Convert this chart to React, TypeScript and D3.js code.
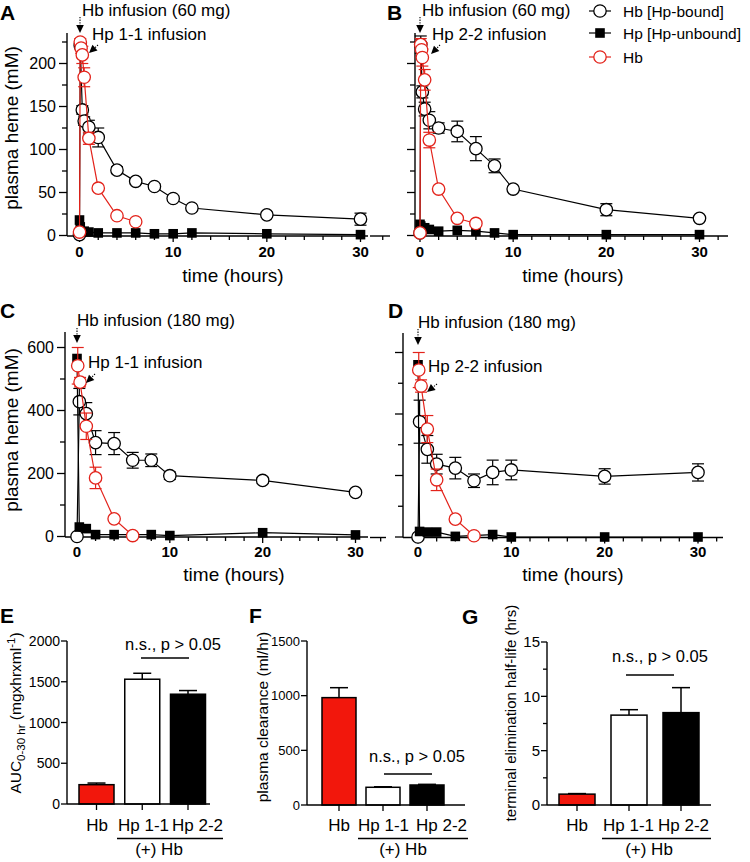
import React from "react";
import * as d3 from "d3";

const RED = "#e3231b";
const BAR_RED = "#f2170c";
const FONT = "'Liberation Sans', Arial, Helvetica, sans-serif";

// ---------- Panel A: Hb 60 mg + Hp 1-1 ----------
const aBoundT = [0, 0.08, 0.3, 0.5, 1, 2, 4, 6, 8, 10, 12, 20, 30];
const aBoundV = [1, 221, 146, 133, 126, 114, 76, 63, 57, 43, 32, 24, 19];
const aBoundE = [0, 4, 5, 5, 8, 11, 4, 3, 3, 3, 2, 3, 7];
const aUnboundT = [0, 0.08, 0.5, 1, 2, 4, 6, 8, 10, 12, 20, 30];
const aUnboundV = [18, 10, 5, 4, 3, 3, 3, 2, 2, 3, 2, 1];
const aHbT = [0, 0.08, 0.17, 0.3, 0.5, 1, 2, 4, 6];
const aHbV = [4, 225, 218, 210, 184, 113, 55, 23, 16];
const aHbE = [0, 4, 6, 10, 11, 7, 0, 0, 0];

// ---------- Panel B: Hb 60 mg + Hp 2-2 ----------
const bBoundT = [0, 0.08, 0.25, 0.5, 1, 2, 4, 6, 8, 10, 20, 30];
const bBoundV = [3, 222, 167, 147, 134, 125, 121, 101, 81, 54, 30, 20];
const bBoundE = [0, 10, 7, 8, 10, 6, 12, 14, 8, 0, 7, 0];
const bUnboundT = [0, 0.08, 0.5, 1, 2, 4, 6, 8, 10, 20, 30];
const bUnboundV = [13, 11, 9, 7, 5, 6, 5, 3, 1, 1, 1];
const bHbT = [0, 0.08, 0.17, 0.25, 0.5, 1, 2, 4, 6];
const bHbV = [3, 222, 216, 207, 181, 111, 54, 20, 14];
const bHbE = [0, 7, 8, 10, 12, 9, 0, 0, 0];

// ---------- Panel C: Hb 180 mg + Hp 1-1 ----------
const cBoundT = [0, 0.25, 1, 2, 4, 6, 8, 10, 20, 30];
const cBoundV = [0, 428, 390, 298, 295, 242, 242, 193, 178, 140];
const cBoundE = [0, 42, 35, 38, 35, 25, 20, 12, 10, 0];
const cUnboundT = [0, 0.25, 1, 2, 4, 8, 10, 20, 30];
const cUnboundV = [565, 30, 25, 6, 6, 6, 3, 12, 5];
const cHbT = [0.08, 0.33, 1, 2, 4, 6];
const cHbV = [542, 490, 350, 186, 56, 3];
const cHbE = [58, 15, 42, 34, 0, 0];

// ---------- Panel D: Hb 180 mg + Hp 2-2 ----------
const dBoundT = [0, 0.17, 1, 2, 4, 6, 8, 10, 20, 30];
const dBoundV = [0, 375, 285, 237, 224, 183, 210, 218, 197, 210];
const dBoundE = [0, 70, 45, 32, 35, 22, 40, 32, 25, 28];
const dUnboundT = [0, 0.17, 1, 2, 4, 8, 10, 20, 30];
const dUnboundV = [560, 18, 16, 16, 2, 8, 0, 0, 0];
const dHbT = [0.08, 0.33, 1, 2, 4, 6];
const dHbV = [543, 491, 351, 186, 58, 4];
const dHbE = [57, 20, 44, 35, 0, 0];

// ---------- Bar panels ----------
const barCats = ["Hb", "Hp 1-1", "Hp 2-2"];
const eAUC = [237, 1531, 1347];
const eAUCErr = [20, 73, 45];
const fClear = [982, 162, 183];
const fClearErr = [91, 5, 6];
const gHalf = [1.0, 8.27, 8.5];
const gHalfErr = [0.05, 0.5, 2.3];

const legendLabels = ["Hb [Hp-bound]", "Hp [Hp-unbound]", "Hb"];

type Scale = d3.ScaleLinear<number, number>;

function arrow(x1: number, y1: number, x2: number, y2: number, key: string) {
  const dx = x2 - x1, dy = y2 - y1;
  const L = Math.hypot(dx, dy);
  const ux = dx / L, uy = dy / L;
  const hl = 8, hw = 3.8;
  const bx = x2 - ux * hl, by = y2 - uy * hl;
  const pts = [
    [x2, y2],
    [bx - uy * hw, by + ux * hw],
    [bx + uy * hw, by - ux * hw],
  ];
  return (
    <g key={key}>
      <line x1={x1} y1={y1} x2={bx} y2={by} stroke="#000" strokeWidth={1.1} strokeDasharray="1.3,1.3" />
      <polygon points={pts.map((p) => p.join(",")).join(" ")} fill="#000" />
    </g>
  );
}

function Series(props: {
  t: number[]; v: number[]; e?: number[]; x: Scale; y: Scale; color: string; shape: "circle" | "square";
}) {
  const { t, v, e, x, y, color, shape } = props;
  const pts = t.map((ti, i) => ({ t: ti, v: v[i], e: e ? e[i] : 0 }));
  const line = d3.line<{ t: number; v: number }>().x((d) => x(d.t)).y((d) => y(d.v));
  return (
    <g>
      <path d={line(pts) || ""} fill="none" stroke={color} strokeWidth={1.2} />
      {pts.filter((p) => p.e > 0).map((p, i) => {
        const cx = x(p.t);
        const y1 = y(p.v - p.e), y2 = y(p.v + p.e);
        return (
          <g key={"e" + i} stroke={color} strokeWidth={1.2}>
            <line x1={cx} x2={cx} y1={y1} y2={y2} />
            <line x1={cx - 6} x2={cx + 6} y1={y1} y2={y1} />
            <line x1={cx - 6} x2={cx + 6} y1={y2} y2={y2} />
          </g>
        );
      })}
      {pts.map((p, i) =>
        shape === "circle" ? (
          <circle key={"m" + i} cx={x(p.t)} cy={y(p.v)} r={6.2} fill="#fff" stroke={color} strokeWidth={1.3} />
        ) : (
          <rect key={"m" + i} x={x(p.t) - 4.8} y={y(p.v) - 4.8} width={9.6} height={9.6} fill={color} />
        )
      )}
    </g>
  );
}

type LineCfg = {
  xr: [number, number];
  yd: [number, number];
  yr: [number, number];
  yAxisX: number;
  xAxisEnd: number;
  yAxisTop: number;
  yMajor: number;
  yMinor: number;
  yTickMax: number;
  xTickMax: number;
  showYLabels: boolean;
  stub?: [number, number];
  xLabelBaseline: number;
  titleBaseline: number;
  titleX: number;
};

function LinePanel(props: {
  cfg: LineCfg;
  bound: [number[], number[], number[]];
  unbound: [number[], number[]];
  hb: [number[], number[], number[]];
}) {
  const { cfg, bound, unbound, hb } = props;
  const x = d3.scaleLinear().domain([0, 30]).range(cfg.xr);
  const y = d3.scaleLinear().domain(cfg.yd).range(cfg.yr);
  const ay = y(0) + 0.5;
  const xt = d3.range(0, cfg.xTickMax + 0.001, 2);
  const yt = d3.range(0, cfg.yTickMax + 0.001, cfg.yMinor);
  return (
    <g>
      <line x1={cfg.yAxisX} x2={cfg.yAxisX} y1={ay} y2={cfg.yAxisTop} stroke="#000" strokeWidth={1.4} />
      {yt.map((v) => {
        const major = Math.abs(v % cfg.yMajor) < 1e-6;
        const len = major ? 8 : 5;
        return (
          <g key={"yt" + v}>
            <line x1={cfg.yAxisX - len} x2={cfg.yAxisX} y1={y(v)} y2={y(v)} stroke="#000" strokeWidth={1.3} />
            {cfg.showYLabels && major ? (
              <text x={cfg.yAxisX - 11} y={y(v)} dy="0.36em" textAnchor="end" fontSize={16}>
                {v}
              </text>
            ) : null}
          </g>
        );
      })}
      <line x1={cfg.yAxisX} x2={cfg.xAxisEnd} y1={ay} y2={ay} stroke="#000" strokeWidth={1.4} />
      {cfg.stub ? (
        <g>
          <line x1={cfg.stub[0]} x2={cfg.stub[1]} y1={ay} y2={ay} stroke="#000" strokeWidth={1.4} />
          <line x1={x(-4)} x2={x(-4)} y1={ay} y2={ay + 4} stroke="#000" strokeWidth={1.3} />
        </g>
      ) : null}
      {xt.map((t) => {
        const major = t % 10 === 0;
        return (
          <g key={"xt" + t}>
            <line x1={x(t)} x2={x(t)} y1={ay} y2={ay + (major ? 6 : 4)} stroke="#000" strokeWidth={1.3} />
            {major ? (
              <text x={x(t)} y={cfg.xLabelBaseline} textAnchor="middle" fontSize={15} fontWeight="bold">
                {t}
              </text>
            ) : null}
          </g>
        );
      })}
      <text x={cfg.titleX} y={cfg.titleBaseline} textAnchor="middle" fontSize={19}>
        time (hours)
      </text>
      <Series t={bound[0]} v={bound[1]} e={bound[2]} x={x} y={y} color="#000" shape="circle" />
      <Series t={unbound[0]} v={unbound[1]} x={x} y={y} color="#000" shape="square" />
      <Series t={hb[0]} v={hb[1]} e={hb[2]} x={x} y={y} color={RED} shape="circle" />
    </g>
  );
}

type BarCfg = {
  yAxisX: number;
  yd: [number, number];
  yr: [number, number];
  yStep: number;
  yMinor?: number;
  xAxisEnd: number;
  centers: [number, number];
  bw: number;
  labelX: number[];
  sig: { x1: number; x2: number; y: number; tx: number; ty: number };
  under: { x1: number; x2: number; tx: number };
  tickFont: number;
};

function BarPanel(props: { cfg: BarCfg; values: number[]; errs: number[] }) {
  const { cfg, values, errs } = props;
  const y = d3.scaleLinear().domain(cfg.yd).range(cfg.yr);
  const x = d3.scalePoint<string>().domain(barCats).range(cfg.centers);
  const ay = y(0);
  const fills = [BAR_RED, "#fff", "#000"];
  const major = d3.range(cfg.yd[0], cfg.yd[1] + 1e-6, cfg.yStep);
  const minor = cfg.yMinor ? d3.range(cfg.yd[0], cfg.yd[1] + 1e-6, cfg.yMinor).filter((v) => Math.abs(v % cfg.yStep) > 1e-6) : [];
  return (
    <g>
      <line x1={cfg.yAxisX} x2={cfg.yAxisX} y1={ay} y2={y(cfg.yd[1])} stroke="#000" strokeWidth={1.4} />
      {major.map((v) => (
        <g key={"m" + v}>
          <line x1={cfg.yAxisX - 6} x2={cfg.yAxisX} y1={y(v)} y2={y(v)} stroke="#000" strokeWidth={1.3} />
          <text x={cfg.yAxisX - 7} y={y(v)} dy="0.36em" textAnchor="end" fontSize={cfg.tickFont}>
            {v}
          </text>
        </g>
      ))}
      {minor.map((v) => (
        <line key={"n" + v} x1={cfg.yAxisX - 4} x2={cfg.yAxisX} y1={y(v)} y2={y(v)} stroke="#000" strokeWidth={1.3} />
      ))}
      {barCats.map((c, i) => {
        const cx = x(c) as number;
        const top = y(values[i]);
        const et = y(values[i] + errs[i]);
        return (
          <g key={c}>
            <line x1={cx} x2={cx} y1={top} y2={et} stroke="#000" strokeWidth={1.5} />
            <line x1={cx - 9} x2={cx + 9} y1={et} y2={et} stroke="#000" strokeWidth={1.5} />
            <rect x={cx - cfg.bw / 2} y={top} width={cfg.bw} height={ay - top} fill={fills[i]} stroke="#000" strokeWidth={1.5} />
            <line x1={cx} x2={cx} y1={ay} y2={ay + 6} stroke="#000" strokeWidth={1.3} />
            <text x={cfg.labelX[i]} y={831} textAnchor="middle" fontSize={17}>
              {c}
            </text>
          </g>
        );
      })}
      <line x1={cfg.yAxisX} x2={cfg.xAxisEnd} y1={ay} y2={ay} stroke="#000" strokeWidth={1.4} />
      <line x1={cfg.sig.x1} x2={cfg.sig.x2} y1={cfg.sig.y} y2={cfg.sig.y} stroke="#000" strokeWidth={1.3} />
      <text x={cfg.sig.tx} y={cfg.sig.ty} textAnchor="middle" fontSize={16.5}>
        n.s., p &gt; 0.05
      </text>
      <line x1={cfg.under.x1} x2={cfg.under.x2} y1={838.5} y2={838.5} stroke="#000" strokeWidth={1.3} />
      <text x={cfg.under.tx} y={855} textAnchor="middle" fontSize={17}>
        (+) Hb
      </text>
    </g>
  );
}

export default function App() {
  const A: LineCfg = {
    xr: [79.5, 360.5], yd: [0, 200], yr: [235.5, 63.5], yAxisX: 67, xAxisEnd: 368, yAxisTop: 33,
    yMajor: 50, yMinor: 25, yTickMax: 225, xTickMax: 30, showYLabels: true,
    xLabelBaseline: 257, titleBaseline: 282, titleX: 233,
  };
  const B: LineCfg = {
    xr: [420, 699.5], yd: [0, 200], yr: [235.5, 63.5], yAxisX: 415, xAxisEnd: 728, yAxisTop: 33,
    yMajor: 50, yMinor: 25, yTickMax: 225, xTickMax: 32, showYLabels: false, stub: [370, 390],
    xLabelBaseline: 257, titleBaseline: 282, titleX: 573,
  };
  const C: LineCfg = {
    xr: [77, 355.5], yd: [0, 600], yr: [536.5, 347.5], yAxisX: 65, xAxisEnd: 368, yAxisTop: 332,
    yMajor: 200, yMinor: 100, yTickMax: 600, xTickMax: 30, showYLabels: true,
    xLabelBaseline: 557, titleBaseline: 581, titleX: 234,
  };
  const D: LineCfg = {
    xr: [418, 698], yd: [0, 600], yr: [537, 352.5], yAxisX: 403, xAxisEnd: 723, yAxisTop: 333,
    yMajor: 200, yMinor: 100, yTickMax: 600, xTickMax: 32, showYLabels: false, stub: [370, 386],
    xLabelBaseline: 557, titleBaseline: 581, titleX: 573,
  };
  const E: BarCfg = {
    yAxisX: 67, yd: [0, 2000], yr: [804, 641], yStep: 500, xAxisEnd: 210, centers: [96.5, 188], bw: 35,
    labelX: [97, 143.5, 197.5], sig: { x1: 141, x2: 189, y: 658, tx: 173, ty: 650 },
    under: { x1: 117, x2: 223, tx: 159 }, tickFont: 14,
  };
  const F: BarCfg = {
    yAxisX: 307, yd: [0, 1500], yr: [805, 641], yStep: 500, xAxisEnd: 465, centers: [339, 427], bw: 34,
    labelX: [339, 383.5, 441.5], sig: { x1: 384, x2: 432, y: 774, tx: 417, ty: 762 },
    under: { x1: 358, x2: 468, tx: 403 }, tickFont: 13,
  };
  const G: BarCfg = {
    yAxisX: 547, yd: [0, 15], yr: [805, 642], yStep: 5, yMinor: 2.5, xAxisEnd: 711, centers: [577, 681], bw: 36,
    labelX: [577, 628.5, 683.5], sig: { x1: 626, x2: 674, y: 675, tx: 660, ty: 662 },
    under: { x1: 602, x2: 711, tx: 649 }, tickFont: 15,
  };

  const letter = (s: string, x: number, y: number) => (
    <text key={s} x={x} y={y} fontSize={21} fontWeight="bold">
      {s}
    </text>
  );

  return (
    <svg width={750} height={862} style={{ position: "absolute", left: 0, top: 0, fontFamily: FONT }}>
      <rect width={750} height={862} fill="#fff" />
      {letter("A", 0, 19.5)}
      {letter("B", 387, 19.5)}
      {letter("C", 0, 318)}
      {letter("D", 388, 318)}
      {letter("E", 0, 623)}
      {letter("F", 249, 623)}
      {letter("G", 462, 624)}

      {/* Panel A */}
      <LinePanel cfg={A} bound={[aBoundT, aBoundV, aBoundE]} unbound={[aUnboundT, aUnboundV]} hb={[aHbT, aHbV, aHbE]} />
      <text transform="translate(18,128) rotate(-90)" textAnchor="middle" fontSize={19}>
        plasma heme (mM)
      </text>
      <text x={82} y={15.5} fontSize={17}>Hb infusion (60 mg)</text>
      <text x={92} y={39.5} fontSize={17}>Hp 1-1 infusion</text>
      {arrow(80, 17, 80, 33, "a1")}
      {arrow(98, 45, 89, 53, "a2")}

      {/* Panel B */}
      <LinePanel cfg={B} bound={[bBoundT, bBoundV, bBoundE]} unbound={[bUnboundT, bUnboundV]} hb={[bHbT, bHbV, bHbE]} />
      <text x={422} y={15.5} fontSize={17}>Hb infusion (60 mg)</text>
      <text x={432} y={39.5} fontSize={17}>Hp 2-2 infusion</text>
      {arrow(420, 17, 420, 33, "b1")}
      {arrow(440, 45, 431, 54, "b2")}

      {/* Legend */}
      {legendLabels.map((lab, i) => {
        const ly = [11, 33, 57][i];
        const col = i === 2 ? RED : "#000";
        return (
          <g key={lab}>
            <line x1={589} x2={611} y1={ly} y2={ly} stroke={col} strokeWidth={1.2} />
            {i === 1 ? (
              <rect x={595.2} y={ly - 4.8} width={9.6} height={9.6} fill="#000" />
            ) : (
              <circle cx={600} cy={ly} r={6.2} fill="#fff" stroke={col} strokeWidth={1.3} />
            )}
            <text x={623} y={ly} dy="0.36em" fontSize={15.5}>
              {lab}
            </text>
          </g>
        );
      })}

      {/* Panel C */}
      <LinePanel cfg={C} bound={[cBoundT, cBoundV, cBoundE]} unbound={[cUnboundT, cUnboundV]} hb={[cHbT, cHbV, cHbE]} />
      <text transform="translate(18,430) rotate(-90)" textAnchor="middle" fontSize={19}>
        plasma heme (mM)
      </text>
      <text x={77} y={326} fontSize={17}>Hb infusion (180 mg)</text>
      <text x={88} y={368} fontSize={17}>Hp 1-1 infusion</text>
      {arrow(77, 328, 77, 343, "c1")}
      {arrow(95, 374, 86, 383, "c2")}

      {/* Panel D */}
      <LinePanel cfg={D} bound={[dBoundT, dBoundV, dBoundE]} unbound={[dUnboundT, dUnboundV]} hb={[dHbT, dHbV, dHbE]} />
      <text x={418} y={328} fontSize={17}>Hb infusion (180 mg)</text>
      <text x={428} y={372} fontSize={17}>Hp 2-2 infusion</text>
      {arrow(418, 329, 418, 345, "d1")}
      {arrow(437, 384, 427, 392, "d2")}

      {/* Panel E */}
      <BarPanel cfg={E} values={eAUC} errs={eAUCErr} />
      <text transform="translate(20.5,713) rotate(-90)" textAnchor="middle" fontSize={15.5}>
        AUC
        <tspan fontSize={11.5} dy={4}>0-30 hr</tspan>
        <tspan dy={-4}> (mgxhrxml</tspan>
        <tspan fontSize={11.5} dy={-6}>-1</tspan>
        <tspan dy={6}>)</tspan>
      </text>

      {/* Panel F */}
      <BarPanel cfg={F} values={fClear} errs={fClearErr} />
      <text transform="translate(268,717) rotate(-90)" textAnchor="middle" fontSize={15.5}>
        plasma clearance (ml/hr)
      </text>

      {/* Panel G */}
      <BarPanel cfg={G} values={gHalf} errs={gHalfErr} />
      <text transform="translate(516,713) rotate(-90)" textAnchor="middle" fontSize={15}>
        terminal elimination half-life (hrs)
      </text>
    </svg>
  );
}
